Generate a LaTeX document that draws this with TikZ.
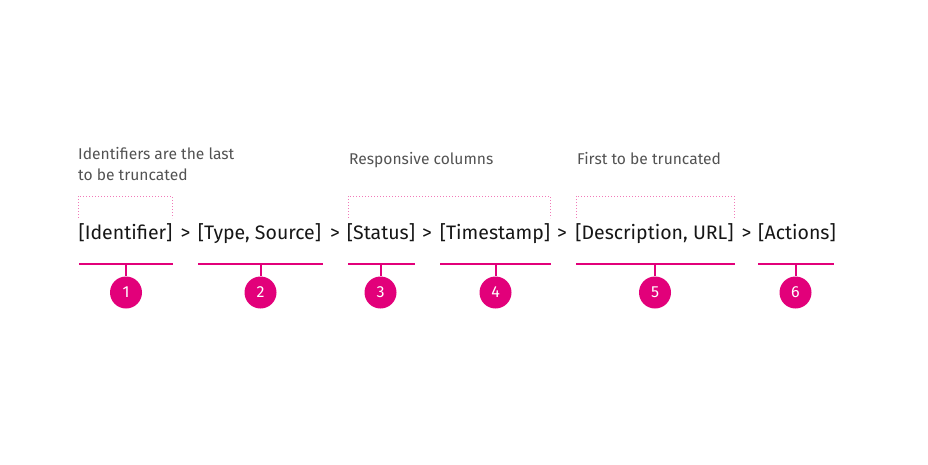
\documentclass[tikz,border=0pt]{standalone}
\usepackage{fontspec}
\setmainfont{Fira Sans}
\definecolor{mag}{HTML}{E2007A}
\definecolor{magl}{HTML}{F17AB8}
\definecolor{txt}{HTML}{161616}
\definecolor{note}{HTML}{525252}
\begin{document}
\begin{tikzpicture}[x=1pt,y=-1pt,
  seg/.style={font=\fontsize{19.5}{22}\selectfont, text=txt, inner sep=0pt, anchor=base},
  notetext/.style={font=\fontsize{15.6}{20}\selectfont, text=note, inner sep=0pt, anchor=base west, align=left},
  uline/.style={draw=mag, line width=2pt},
  stem/.style={draw=mag, line width=2pt},
  num/.style={circle, fill=mag, minimum size=32pt, inner sep=0pt, text=white, font=\fontsize{16}{18}\selectfont},
  dotbox/.style={draw=magl, line width=1pt, dash pattern=on 1.2pt off 1.8pt}]
\useasboundingbox (0,0) rectangle (928,464);
% main text
\node[seg] (t1) at (125.5,239.5) {[Identifier]};
\node[seg] (g1) at (185.5,239.5) {>};
\node[seg] (t2) at (259.5,239.5) {[Type, Source]};
\node[seg] (g2) at (335,239.5) {>};
\node[seg] (t3) at (381,239.5) {[Status]};
\node[seg] (g3) at (427,239.5) {>};
\node[seg] (t4) at (495,239.5) {[Timestamp]};
\node[seg] (g4) at (562,239.5) {>};
\node[seg] (t5) at (654.5,239.5) {[Description, URL]};
\node[seg] (g5) at (746.5,239.5) {>};
\node[seg] (t6) at (797,239.5) {[Actions]};
% notes
\node[notetext] (n1) at (78,159) {Identifiers are the last};
\node[notetext] (n1b) at (78,180.5) {to be truncated};
\node[notetext] (n2) at (349,164) {Responsive columns};
\node[notetext] (n3) at (577,164) {First to be truncated};
% dotted boxes
\draw[dotbox] (78,218) -- (78,196) -- (172,196) -- (172,218);
\draw[dotbox] (348,218) -- (348,196) -- (550,196) -- (550,218);
\draw[dotbox] (576,218) -- (576,196) -- (734,196) -- (734,218);
% underlines and numbers
\foreach \i/\a/\b/\c in {1/79/173/126, 2/198/323/260.5, 3/348/415/380.5, 4/440/551/495.5, 5/576/735/655, 6/758/834/795.5}{
  \coordinate (l\i) at (\a,264);
  \coordinate (r\i) at (\b,264);
  \coordinate (m\i) at (\c,264);
  \draw[uline] (l\i) -- (r\i);
  \node[num] (c\i) at (\c,292.5) {\i};
  \draw[stem] (m\i) -- (c\i.north);
}
\end{tikzpicture}
\end{document}
